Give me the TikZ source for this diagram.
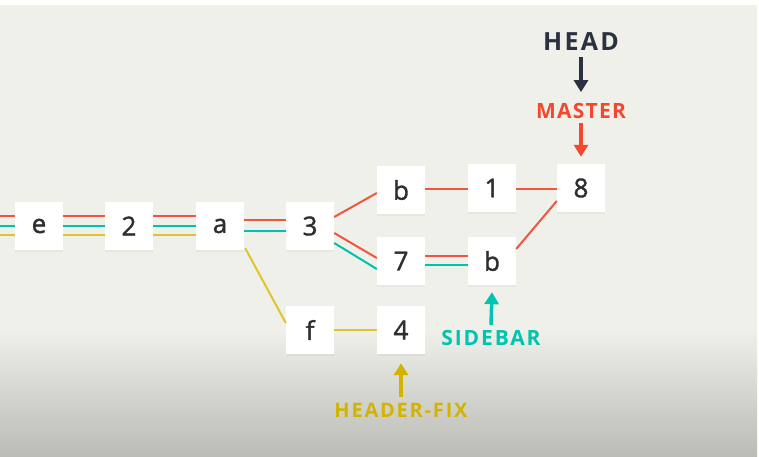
\documentclass[tikz,border=0pt]{standalone}
\usepackage{fontspec}
\setmainfont{Open Sans}
\usetikzlibrary{arrows.meta,shadows}
\definecolor{bgc}{HTML}{F0F0EB}
\definecolor{bgd}{HTML}{BBBBB6}
\definecolor{rline}{HTML}{F0553F}
\definecolor{tline}{HTML}{00C2AE}
\definecolor{yline}{HTML}{E0C42E}
\definecolor{rlab}{HTML}{F4472E}
\definecolor{tlab}{HTML}{00C4B0}
\definecolor{ylab}{HTML}{D2B400}
\definecolor{dlab}{HTML}{2A3140}
\definecolor{txt}{HTML}{2E2E2E}
\tikzset{
  commit/.style={fill=white, minimum size=48pt, inner sep=0pt, text=txt,
    font=\fontsize{26}{26}\selectfont\addfontfeatures{FakeBold=1.4},
    drop shadow={opacity=0.08, shadow xshift=0pt, shadow yshift=-1.5pt}},
  lbl/.style 2 args={inner sep=0pt, font=\fontsize{#1}{#1}\selectfont\bfseries\addfontfeatures{LetterSpace=#2}},
  br/.style={draw=rline, line width=2pt},
  bt/.style={draw=tline, line width=2pt},
  by/.style={draw=yline, line width=2pt},
  ptr/.style={line width=3.5pt, -{Triangle[width=14pt,length=12pt]}},
}
\begin{document}
\begin{tikzpicture}[x=1pt,y=-1pt]
\useasboundingbox (0,0) rectangle (759,457);
\fill[white] (0,0) rectangle (759,457);
\fill[bgc] (0,5) rectangle (757,330);
\shade[top color=bgc, bottom color=bgd] (0,330) rectangle (757,457);

\coordinate (start) at (0,226);
\node[commit] (e) at (39,226) {e};
\node[commit] (c2) at (129,226) {2};
\node[commit] (a) at (220,226) {a};
\node[commit] (c3) at (310,226) {3};
\node[commit] (bt) at (401,190) {b};
\node[commit] (c1) at (492,188) {1};
\node[commit] (c8) at (581,188) {8};
\node[commit] (c7) at (401,261) {7};
\node[commit] (bb) at (492,261) {b};
\node[commit] (f) at (310,330) {f};
\node[commit] (c4) at (401,330) {4};

% branch lines
\foreach \s/\t in {start/e, e/c2, c2/a}{
  \draw[br] ([yshift=10pt]\s.east) -- ([yshift=10pt]\t.west);
  \draw[bt] ([yshift=0pt]\s.east) -- ([yshift=0pt]\t.west);
  \draw[by] ([yshift=-9pt]\s.east) -- ([yshift=-9pt]\t.west);
}
\draw[br] ([yshift=6pt]a.east) -- ([yshift=6pt]c3.west);
\draw[bt] ([yshift=-5pt]a.east) -- ([yshift=-5pt]c3.west);
\draw[br] ([yshift=9pt]c3.east) -- ([yshift=-3pt]bt.west);
\draw[br] ([yshift=-7pt]c3.east) -- ([yshift=3pt]c7.west);
\draw[bt] ([yshift=-17pt]c3.east) -- ([yshift=-8pt]c7.west);
\draw[br] ([yshift=1pt]bt.east) -- ([yshift=-1pt]c1.west);
\draw[br] ([yshift=-1pt]c1.east) -- ([yshift=-1pt]c8.west);
\draw[br] ([yshift=5pt]c7.east) -- ([yshift=5pt]bb.west);
\draw[bt] ([yshift=-4pt]c7.east) -- ([yshift=-4pt]bb.west);
\draw[br] ([yshift=12pt]bb.east) -- ([yshift=-13pt]c8.west);
\draw[by] ([xshift=1pt,yshift=2pt]a.south east) -- ([yshift=7pt]f.west);
\draw[by] (f.east) -- (c4.west);

% labels
\node[lbl={25}{9}, text=dlab] (head) at (581,42) {HEAD};
\node[lbl={21}{6}, text=rlab] (master) at (581,111) {MASTER};
\node[lbl={21}{9}, text=tlab] (sidebar) at (491,338) {SIDEBAR};
\node[lbl={20}{9}, text=ylab] (hfix) at (401,410) {HEADER-FIX};

\draw[ptr, dlab] ([yshift=-6pt]head.south) -- ([yshift=11pt]master.north);
\draw[ptr, rlab] ([yshift=-4pt]master.south) -- ([yshift=7pt]c8.north);
\draw[ptr, tlab] ([yshift=5pt]sidebar.north) -- ([yshift=-7pt]bb.south);
\draw[ptr, ylab] ([yshift=6pt]hfix.north) -- ([yshift=-9pt]c4.south);
\end{tikzpicture}
\end{document}
